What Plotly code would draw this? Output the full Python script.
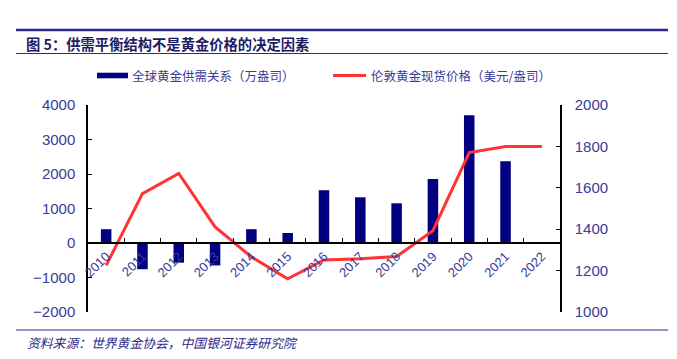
import plotly.graph_objects as go

years = ["2010", "2011", "2012", "2013", "2014", "2015", "2016",
         "2017", "2018", "2019", "2020", "2021", "2022"]
balance = [400, -760, -570, -650, 400, 290, 1530, 1325, 1150, 1855, 3700, 2370, 20]
price = [1225, 1572, 1669, 1411, 1266, 1160, 1251, 1257, 1268, 1393, 1770, 1799, 1800]

bar_name = "全球黄金供需关系（万盎司）"
line_name = "伦敦黄金现货价格（美元/盎司）"
title_text = "图 5：供需平衡结构不是黄金价格的决定因素"
source_text = "资料来源：世界黄金协会，中国银河证券研究院"

W, H = 677, 359
L, R, T, B = 88, 117, 105, 47
PW, PH = W - L - R, H - T - B

navy = "#000080"
red = "#ff3333"
txt = "#3a3a9a"
rule = "#2a2a8a"

fig = go.Figure()
fig.add_trace(go.Bar(x=years, y=balance, name=bar_name, marker_color=navy,
                     marker_line_width=0, yaxis="y"))
fig.add_trace(go.Scatter(x=years, y=price, name=line_name, mode="lines",
                         line=dict(color=red, width=3), yaxis="y2"))

def px_x(p):
    return (p - L) / PW

def px_y(p):
    return (H - B - p) / PH

shapes = [
    dict(type="line", xref="paper", yref="paper", x0=px_x(16), x1=px_x(668), y0=px_y(30), y1=px_y(30),
         line=dict(color=rule, width=2.5)),
    dict(type="line", xref="paper", yref="paper", x0=px_x(16), x1=px_x(668), y0=px_y(53.5), y1=px_y(53.5),
         line=dict(color=rule, width=1.2)),
    dict(type="line", xref="paper", yref="paper", x0=px_x(16), x1=px_x(668), y0=px_y(330), y1=px_y(330),
         line=dict(color=rule, width=1.2)),
    dict(type="rect", xref="paper", yref="paper", x0=px_x(97), x1=px_x(128), y0=px_y(78.3), y1=px_y(72.7),
         fillcolor=navy, line=dict(width=0)),
    dict(type="line", xref="paper", yref="paper", x0=px_x(333), x1=px_x(366), y0=px_y(75.5), y1=px_y(75.5),
         line=dict(color=red, width=3)),
]

cjk = "Noto Sans CJK SC"
annotations = [
    dict(text="<b>" + title_text + "</b>", xref="paper", yref="paper", x=px_x(24), y=px_y(43),
         xanchor="left", yanchor="middle", showarrow=False,
         font=dict(family=cjk, size=14.3, color="#1c1c66")),
    dict(text=bar_name, xref="paper", yref="paper", x=px_x(130), y=px_y(75),
         xanchor="left", yanchor="middle", showarrow=False,
         font=dict(family=cjk, size=12.5, color=txt)),
    dict(text=line_name, xref="paper", yref="paper", x=px_x(369), y=px_y(75),
         xanchor="left", yanchor="middle", showarrow=False,
         font=dict(family=cjk, size=12.5, color=txt)),
    dict(text="<i>" + source_text + "</i>", xref="paper", yref="paper", x=px_x(25), y=px_y(342),
         xanchor="left", yanchor="middle", showarrow=False,
         font=dict(family=cjk, size=12.8, color="#2a2a8a")),
]

tickfont = dict(family="Liberation Sans, Arial, sans-serif", size=15, color=txt)

fig.update_layout(
    width=W, height=H,
    margin=dict(l=L, r=R, t=T, b=B, pad=0),
    paper_bgcolor="white", plot_bgcolor="white",
    showlegend=False,
    bargap=0.71,
    shapes=shapes,
    annotations=annotations,
    xaxis=dict(type="category", anchor="free", position=1/3,
               showline=True, linecolor="black", linewidth=1.5,
               ticks="inside", ticklen=4, tickcolor="black", tickwidth=1.2,
               tickson="boundaries", tickangle=-45,
               tickfont=dict(family="Liberation Sans, Arial, sans-serif", size=13, color=txt),
               showgrid=False, zeroline=False),
    yaxis=dict(range=[-2000, 4000], dtick=1000, showline=True, linecolor="black", linewidth=1.5,
               ticks="inside", ticklen=4, tickcolor="black", tickwidth=1.2,
               tickfont=tickfont, showgrid=False, zeroline=False,
               ticklabelstandoff=8),
    yaxis2=dict(range=[1000, 2000], dtick=200, overlaying="y", side="right",
                showline=True, linecolor="black", linewidth=1.5,
                ticks="inside", ticklen=4, tickcolor="black", tickwidth=1.2,
                tickfont=tickfont, showgrid=False, zeroline=False,
                ticklabelstandoff=10),
)

fig.write_html("out.html", config={"displayModeBar": False},
               post_script="document.body.style.margin='0';")
